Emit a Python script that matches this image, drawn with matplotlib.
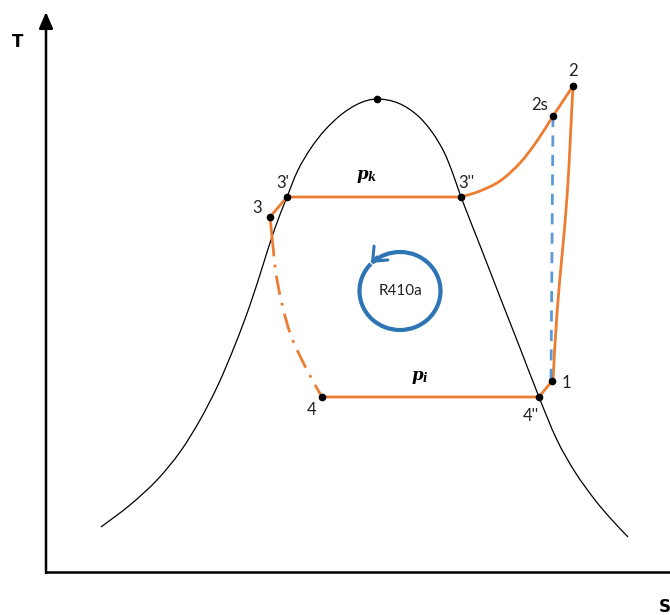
import matplotlib
matplotlib.use("Agg")
import matplotlib.pyplot as plt
from matplotlib.path import Path
from matplotlib.patches import PathPatch, Arc

plt.rcParams["mathtext.fontset"] = "dejavuserif"

# saturation dome (s, T)
dome_s = [101, 130, 157, 180, 200, 218, 235, 250, 263, 275, 287, 298, 311, 325, 342, 360, 377,
          398, 417, 432, 444, 453, 461, 481, 500, 520, 539, 557, 575, 595, 612, 628]
dome_T = [88, 110, 135, 163, 195, 230, 270, 310, 350, 387, 418, 445, 467, 485, 501, 512, 516,
          512, 500, 483, 463, 441, 418, 367, 318, 267, 218, 175, 143, 115, 95, 78]

# cycle state points
pt_names = ["3", "3'", "3''", "2s", "2", "1", "4''", "4"]
pt_s = [270, 287, 461, 553, 573, 552, 539, 322]
pt_T = [398, 418, 418, 499, 529, 234, 218, 218]
peak = (377, 516)

# curved process lines
comp_s = [461, 480, 500, 520, 537, 553]     # 3'' -> 2s
comp_T = [418, 424, 434, 452, 474, 499]
real_s = [573, 567, 557, 553]               # 2 -> 1
real_T = [529, 418, 302, 234]
throttle_s = [272, 277, 290, 307, 322]      # 3 -> 4 (dash-dot)
throttle_T = [378, 335, 282, 245, 218]
isen_s = [553, 551]                         # 2s -> 1 ideal
isen_T = [499, 234]

# label positions
lbl_s = [257, 283, 466, 540, 573, 566, 531, 312]
lbl_T = [407, 432, 432, 510, 544, 232, 199, 205]

ORANGE = "#ED7D31"
BLUE_C = "#2E75B6"
BLUE_D = "#5B9BD5"


def smooth(xs, ys):
    # smooth curve through the points (chord-length tangents, cubic beziers)
    p = list(zip(xs, ys))
    n = len(p)
    d = [((p[i + 1][0] - p[i][0]) ** 2 + (p[i + 1][1] - p[i][1]) ** 2) ** 0.5 for i in range(n - 1)]
    m = []
    for i in range(n):
        if i == 0:
            m.append(((p[1][0] - p[0][0]) / d[0], (p[1][1] - p[0][1]) / d[0]))
        elif i == n - 1:
            m.append(((p[i][0] - p[i - 1][0]) / d[i - 1], (p[i][1] - p[i - 1][1]) / d[i - 1]))
        else:
            L = d[i - 1] + d[i]
            m.append(((p[i + 1][0] - p[i - 1][0]) / L, (p[i + 1][1] - p[i - 1][1]) / L))
    verts = [p[0]]
    codes = [Path.MOVETO]
    for i in range(n - 1):
        k = d[i] / 3
        c1 = (p[i][0] + m[i][0] * k, p[i][1] + m[i][1] * k)
        c2 = (p[i + 1][0] - m[i + 1][0] * k, p[i + 1][1] - m[i + 1][1] * k)
        verts += [c1, c2, p[i + 1]]
        codes += [Path.CURVE4] * 3
    return Path(verts, codes)


fig = plt.figure(figsize=(6.7, 6.15), dpi=100)
ax = fig.add_axes([0, 0, 1, 1])
ax.set_xlim(0, 670)
ax.set_ylim(0, 615)
ax.axis("off")

# axes arrows
ax.annotate("", xy=(46, 603), xytext=(46, 42),
            arrowprops=dict(arrowstyle="-|>,head_length=0.7,head_width=0.3",
                            color="black", lw=1.8, mutation_scale=14, shrinkA=0, shrinkB=0))
ax.plot([45, 670], [43, 43], color="black", lw=1.8, solid_capstyle="butt")
ax.text(18, 573, "T", fontsize=12, fontweight="bold", ha="center", va="center")
ax.text(665, 8, "S", fontsize=12, fontweight="bold", ha="center", va="center")

# dome
ax.add_patch(PathPatch(smooth(dome_s, dome_T), fill=False, color="black", lw=0.9))
ax.plot(*peak, "o", color="black", ms=4.5, zorder=5)

# cycle
lw = 2.0
ax.plot([pt_s[0], pt_s[1], pt_s[2]], [pt_T[0], pt_T[1], pt_T[2]], color=ORANGE, lw=lw)
ax.add_patch(PathPatch(smooth(comp_s, comp_T), fill=False, color=ORANGE, lw=lw))
ax.plot([pt_s[3], pt_s[4]], [pt_T[3], pt_T[4]], color=ORANGE, lw=lw)
ax.add_patch(PathPatch(smooth(real_s, real_T), fill=False, color=ORANGE, lw=lw))
ax.plot([pt_s[5], pt_s[6], pt_s[7]], [pt_T[5], pt_T[6], pt_T[7]], color=ORANGE, lw=lw)
ax.plot([pt_s[0], throttle_s[0]], [pt_T[0], throttle_T[0]], color=ORANGE, lw=lw)
ax.add_patch(PathPatch(smooth(throttle_s, throttle_T), fill=False, color=ORANGE, lw=lw,
                       linestyle=(0, (7, 3, 1, 3))))
ax.plot(isen_s, isen_T, color=BLUE_D, lw=2.0, dashes=(4, 3))

ax.plot(pt_s, pt_T, "o", color="black", ms=4.5, zorder=5)

for name, s, t in zip(pt_names, lbl_s, lbl_T):
    ax.text(s, t, name, fontsize=12, family="Lato", ha="center", va="center", color="#222222")

ax.text(367, 439, r"$\mathbfit{p}_{\mathbfit{k}}$", fontsize=12, ha="center", va="center")
ax.text(420, 238, r"$\mathbfit{p}_{\mathbfit{i}}$", fontsize=12, ha="center", va="center")

# R410a circle with arrow
ax.add_patch(Arc((400, 324), 81, 78, theta1=137, theta2=495, color=BLUE_C, lw=3))
ax.annotate("", xy=(371, 352), xytext=(377, 358),
            arrowprops=dict(arrowstyle="->,head_length=0.6,head_width=0.5",
                            color=BLUE_C, lw=2.2, mutation_scale=14, shrinkA=0, shrinkB=0))
ax.text(400, 324, "R410a", fontsize=11, family="Lato", ha="center", va="center", color="#222222")

fig.savefig("out.png", dpi=100)
